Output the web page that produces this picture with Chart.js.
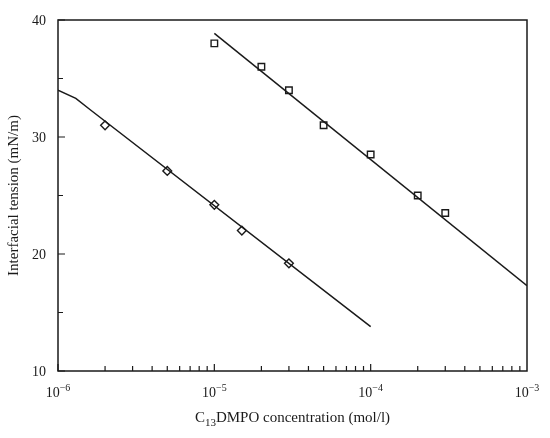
<!DOCTYPE html>
<html>
<head>
<meta charset="utf-8">
<script src="https://cdn.jsdelivr.net/npm/chart.js@4"></script>
<style>
  html, body { margin: 0; padding: 0; background: #fff; }
  #wrap { width: 550px; height: 438px; }
</style>
</head>
<body>
<div id="wrap"><canvas id="myChart"></canvas></div>
<script>
// measured points
const squareX = [1e-5, 2e-5, 3e-5, 5e-5, 1e-4, 2e-4, 3e-4];
const squareY = [38.0, 36.0, 34.0, 31.0, 28.5, 25.0, 23.5];
const diamondX = [2e-6, 5e-6, 1e-5, 1.5e-5, 3e-5];
const diamondY = [31.0, 27.1, 24.2, 22.0, 19.2];

// fitted lines
const squareFitX = [1e-5, 1e-3];
const squareFitY = [38.85, 17.3];
const diamondFitX = [1e-6, 1.3e-6, 1.6e-6, 1e-4];
const diamondFitY = [34.0, 33.3, 32.35, 13.8];

const xTickValues = [1e-6, 1e-5, 1e-4, 1e-3];
const xTickExps = ['\u22126', '\u22125', '\u22124', '\u22123'];
const yTickValues = [10, 20, 30, 40];
const yMinorValues = [15, 25, 35];

const ink = '#1a1a1a';
const serif = '"Liberation Serif", "Times New Roman", serif';

function pairs(xs, ys) {
  return xs.map((x, i) => ({ x: x, y: ys[i] }));
}

// frame, inward ticks and labels
const axisDecor = {
  id: 'axisDecor',
  afterDraw(chart) {
    const ctx = chart.ctx;
    const a = chart.chartArea;
    const xs = chart.scales.x, ys = chart.scales.y;
    ctx.save();
    ctx.strokeStyle = ink;
    ctx.lineWidth = 1.5;
    ctx.strokeRect(a.left, a.top, a.right - a.left, a.bottom - a.top);

    ctx.lineWidth = 1.2;
    ctx.beginPath();
    for (let d = -6; d < -3; d++) {
      for (let m = 1; m <= 9; m++) {
        const px = xs.getPixelForValue(m * Math.pow(10, d));
        const len = m === 1 ? 7 : 5;
        ctx.moveTo(px, a.bottom);
        ctx.lineTo(px, a.bottom - len);
      }
    }
    yTickValues.forEach(v => {
      const py = ys.getPixelForValue(v);
      ctx.moveTo(a.left, py);
      ctx.lineTo(a.left + 7, py);
    });
    yMinorValues.forEach(v => {
      const py = ys.getPixelForValue(v);
      ctx.moveTo(a.left, py);
      ctx.lineTo(a.left + 5, py);
    });
    ctx.stroke();

    ctx.fillStyle = ink;
    // y tick labels
    ctx.font = '14px ' + serif;
    ctx.textAlign = 'right';
    ctx.textBaseline = 'middle';
    yTickValues.forEach(v => {
      ctx.fillText(String(v), a.left - 12, ys.getPixelForValue(v) + 1);
    });

    // x tick labels 10^n
    ctx.textBaseline = 'alphabetic';
    ctx.textAlign = 'left';
    xTickValues.forEach((v, i) => {
      ctx.font = '14px ' + serif;
      const wBase = ctx.measureText('10').width;
      ctx.font = '10px ' + serif;
      const wExp = ctx.measureText(xTickExps[i]).width;
      const px = xs.getPixelForValue(v);
      const x0 = px - (wBase + wExp) / 2;
      ctx.font = '14px ' + serif;
      ctx.fillText('10', x0, a.bottom + 26);
      ctx.font = '10px ' + serif;
      ctx.fillText(xTickExps[i], x0 + wBase, a.bottom + 20);
    });

    // x axis title with subscript
    const parts = [['C', 15, 0], ['13', 11, 4], ['DMPO concentration (mol/l)', 15, 0]];
    let total = 0;
    parts.forEach(p => { ctx.font = p[1] + 'px ' + serif; total += ctx.measureText(p[0]).width; });
    let cx = (a.left + a.right) / 2 - total / 2;
    parts.forEach(p => {
      ctx.font = p[1] + 'px ' + serif;
      ctx.fillText(p[0], cx, a.bottom + 51 + p[2]);
      cx += ctx.measureText(p[0]).width;
    });

    // y axis title
    ctx.save();
    ctx.translate(14, (a.top + a.bottom) / 2);
    ctx.rotate(-Math.PI / 2);
    ctx.textAlign = 'center';
    ctx.textBaseline = 'middle';
    ctx.font = '15px ' + serif;
    ctx.fillText('Interfacial tension (mN/m)', 0, 0);
    ctx.restore();

    ctx.restore();
  }
};

const ctx = document.getElementById('myChart').getContext('2d');
const chart = new Chart(ctx, {
  type: 'scatter',
  data: {
    datasets: [
      {
        data: pairs(squareFitX, squareFitY),
        showLine: true,
        borderColor: ink,
        borderWidth: 1.5,
        pointRadius: 0,
        fill: false
      },
      {
        data: pairs(diamondFitX, diamondFitY),
        showLine: true,
        borderColor: ink,
        borderWidth: 1.5,
        pointRadius: 0,
        tension: 0,
        fill: false
      },
      {
        data: pairs(squareX, squareY),
        pointStyle: 'rect',
        pointRadius: 4.6,
        borderColor: ink,
        borderWidth: 1.4,
        backgroundColor: '#fff'
      },
      {
        data: pairs(diamondX, diamondY),
        pointStyle: 'rectRot',
        pointRadius: 4.4,
        borderColor: ink,
        borderWidth: 1.4,
        backgroundColor: '#fff'
      }
    ]
  },
  options: {
    responsive: true,
    maintainAspectRatio: false,
    animation: false,
    layout: { padding: { left: 58, top: 20, right: 23, bottom: 67 } },
    plugins: { legend: { display: false }, tooltip: { enabled: false } },
    scales: {
      x: {
        type: 'logarithmic',
        min: 1e-6,
        max: 1e-3,
        ticks: { display: false },
        grid: { display: false, drawTicks: false },
        border: { display: false }
      },
      y: {
        min: 10,
        max: 40,
        ticks: { display: false },
        grid: { display: false, drawTicks: false },
        border: { display: false }
      }
    }
  },
  plugins: [axisDecor]
});
</script>
</body>
</html>
